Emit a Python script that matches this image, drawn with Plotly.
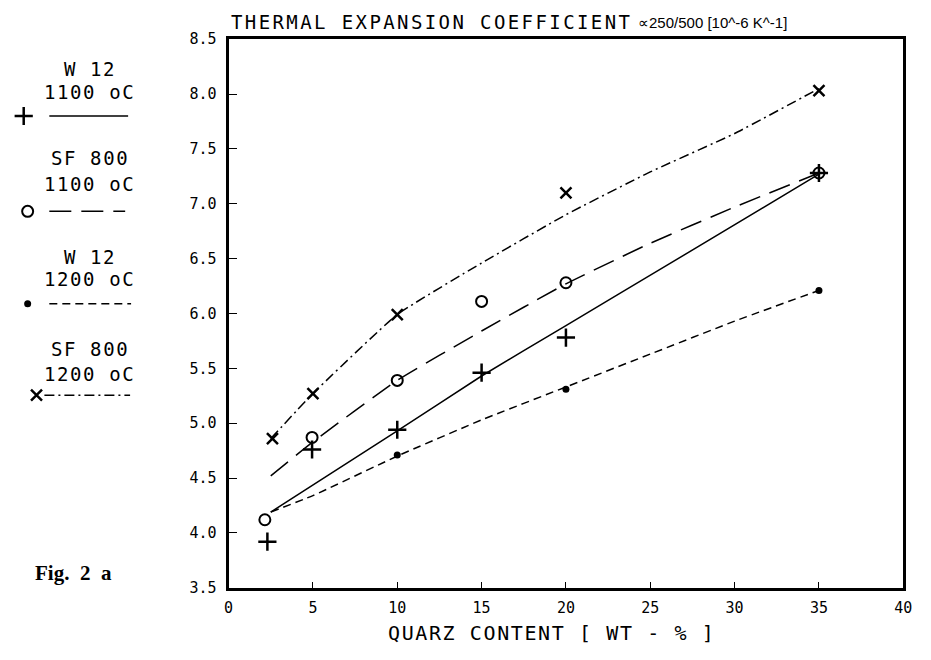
import plotly.graph_objects as go

W, H = 931, 660

# ---------------- data ----------------
series_names = ["W 12 1100 oC", "SF 800 1100 oC", "W 12 1200 oC", "SF 800 1200 oC"]
legend_line1 = ["W 12", "SF 800", "W 12", "SF 800"]
legend_line2 = ["1100 oC", "1100 oC", "1200 oC", "1200 oC"]

# measured points
w12_1100_x = [2.3, 4.95, 10, 15, 20, 35]
w12_1100_y = [3.92, 4.76, 4.94, 5.46, 5.78, 7.28]
sf800_1100_x = [2.15, 4.95, 10, 15, 20, 35]
sf800_1100_y = [4.12, 4.87, 5.39, 6.11, 6.28, 7.28]
w12_1200_x = [10, 20, 35]
w12_1200_y = [4.71, 5.31, 6.21]
sf800_1200_x = [2.6, 5, 10, 20, 35]
sf800_1200_y = [4.86, 5.27, 5.99, 7.10, 8.03]

# hand-drawn trend curves
w12_1100_fit_x = [2.5, 10, 15, 20, 26, 35]
w12_1100_fit_y = [4.19, 4.93, 5.43, 5.89, 6.44, 7.27]
sf800_1100_fit_x = [2.5, 5, 10, 15, 20, 25, 30, 35]
sf800_1100_fit_y = [4.52, 4.83, 5.39, 5.84, 6.27, 6.64, 6.97, 7.28]
w12_1200_fit_x = [2.5, 5, 10, 15, 20, 25, 30, 35]
w12_1200_fit_y = [4.19, 4.34, 4.70, 5.03, 5.33, 5.63, 5.93, 6.21]
sf800_1200_fit_x = [2.5, 5, 10, 15, 20, 25, 30, 35]
sf800_1200_fit_y = [4.86, 5.27, 5.99, 6.46, 6.90, 7.29, 7.64, 8.05]

x_ticks = [0, 5, 10, 15, 20, 25, 30, 35, 40]
x_ticktext = ["0", "5", "10", "15", "20", "25", "30", "35", "40"]
y_ticks = [3.5, 4.0, 4.5, 5.0, 5.5, 6.0, 6.5, 7.0, 7.5, 8.0, 8.5]
y_ticktext = ["3.5", "4.0", "4.5", "5.0", "5.5", "6.0", "6.5", "7.0", "7.5", "8.0", "8.5"]

title_main = "THERMAL EXPANSION COEFFICIENT"
title_sub = "∝250/500 [10^-6 K^-1]"
x_title = "QUARZ CONTENT [ WT - % ]"
fig_label = "Fig.  2  a"

# ---------------- styles ----------------
MONO = "DejaVu Sans Mono"
INK = "black"
markers = [
    dict(symbol="cross-thin", size=13, line=dict(width=2.5, color=INK), color=INK),
    dict(symbol="circle-open", size=11, line=dict(width=2, color=INK), color=INK),
    dict(symbol="circle", size=7, color=INK, line=dict(width=0)),
    dict(symbol="x-thin", size=11, line=dict(width=2.5, color=INK), color=INK),
]
dashes = ["solid", "22px,10px", "8px,5px", "10px,4px,2px,4px"]

pts = [(w12_1100_x, w12_1100_y), (sf800_1100_x, sf800_1100_y),
       (w12_1200_x, w12_1200_y), (sf800_1200_x, sf800_1200_y)]
fits = [(w12_1100_fit_x, w12_1100_fit_y), (sf800_1100_fit_x, sf800_1100_fit_y),
        (w12_1200_fit_x, w12_1200_fit_y), (sf800_1200_fit_x, sf800_1200_fit_y)]

fig = go.Figure()
for i in range(4):
    fx, fy = fits[i]
    fig.add_trace(go.Scatter(x=fx, y=fy, mode="lines", name=series_names[i],
                             line=dict(color=INK, width=1.5, dash=dashes[i], shape="spline", smoothing=0.4),
                             showlegend=False, xaxis="x", yaxis="y"))
for i in range(4):
    px_, py_ = pts[i]
    fig.add_trace(go.Scatter(x=px_, y=py_, mode="markers", name=series_names[i],
                             marker=markers[i], showlegend=False, xaxis="x", yaxis="y"))

# ---------------- hand-made legend (pixel layer) ----------------
leg_text1_y = [62, 153, 255, 350]
leg_text2_y = [85, 180, 278, 375]
leg_sample_y = [110, 208, 303, 397]
leg_marker_x = [19, 23, 23, 32]
leg_line_x = [(45, 125), (45, 122), (45, 128), (40, 127)]
for i in range(4):
    x0, x1 = leg_line_x[i]
    yy = leg_sample_y[i]
    fig.add_trace(go.Scatter(x=[x0, x1], y=[yy, yy], mode="lines",
                             line=dict(color=INK, width=1.5, dash=dashes[i]),
                             showlegend=False, xaxis="x2", yaxis="y2", hoverinfo="skip"))
    fig.add_trace(go.Scatter(x=[leg_marker_x[i]], y=[yy], mode="markers",
                             marker=markers[i], showlegend=False, xaxis="x2", yaxis="y2",
                             hoverinfo="skip"))

annotations = []
LS = '<span style="letter-spacing:1.6px">{}</span>'
for i in range(4):
    annotations.append(dict(x=86, y=leg_text1_y[i], xref="x2", yref="y2", text=LS.format(legend_line1[i]),
                            showarrow=False, font=dict(family=MONO, size=19, color=INK),
                            xanchor="center", yanchor="middle"))
    annotations.append(dict(x=86, y=leg_text2_y[i], xref="x2", yref="y2", text=LS.format(legend_line2[i]),
                            showarrow=False, font=dict(family=MONO, size=19, color=INK),
                            xanchor="center", yanchor="middle"))

annotations.append(dict(x=227, y=13, xref="x2", yref="y2",
                        text='<span style="letter-spacing:2.4px">' + title_main + '</span>',
                        showarrow=False, font=dict(family=MONO, size=19, color=INK),
                        xanchor="left", yanchor="middle"))
annotations.append(dict(x=641, y=14, xref="x2", yref="y2", text=title_sub,
                        showarrow=False, font=dict(family="Liberation Sans", size=15, color=INK),
                        xanchor="left", yanchor="middle"))
annotations.append(dict(x=555, y=642, xref="x2", yref="y2",
                        text='<span style="letter-spacing:1.6px">' + x_title + '</span>',
                        showarrow=False, font=dict(family=MONO, size=20, color=INK),
                        xanchor="center", yanchor="middle"))
annotations.append(dict(x=28, y=580, xref="x2", yref="y2", text="<b>" + fig_label + "</b>",
                        showarrow=False, font=dict(family="Liberation Serif", size=21, color=INK),
                        xanchor="left", yanchor="middle"))

# plot box in page pixels
left, right, top, bottom = 227, 912, 31, 595
fig.update_layout(
    width=W, height=H,
    margin=dict(l=0, r=0, t=0, b=0, pad=0),
    paper_bgcolor="white", plot_bgcolor="rgba(0,0,0,0)",
    showlegend=False,
    xaxis=dict(domain=[left / W, right / W], range=[0, 40], tickmode="array",
               tickvals=x_ticks, ticktext=x_ticktext, ticks="inside", ticklen=6, tickwidth=1.2,
               tickcolor=INK, showline=True, linewidth=3, linecolor=INK, mirror=True,
               showgrid=False, zeroline=False, anchor="y",
               tickfont=dict(family=MONO, size=15, color=INK), ticklabelstandoff=4),
    yaxis=dict(domain=[1 - bottom / H, 1 - top / H], range=[3.5, 8.5], tickmode="array",
               tickvals=y_ticks, ticktext=y_ticktext, ticks="inside", ticklen=8, tickwidth=1.2,
               tickcolor=INK, showline=True, linewidth=3, linecolor=INK, mirror=True,
               showgrid=False, zeroline=False, anchor="x",
               tickfont=dict(family=MONO, size=15, color=INK), ticklabelstandoff=6),
    xaxis2=dict(domain=[0, 1], range=[0, W], visible=False, anchor="y2", fixedrange=True),
    yaxis2=dict(domain=[0, 1], range=[H, 0], visible=False, anchor="x2", fixedrange=True),
    annotations=annotations,
)

fig.write_html("out.html")
